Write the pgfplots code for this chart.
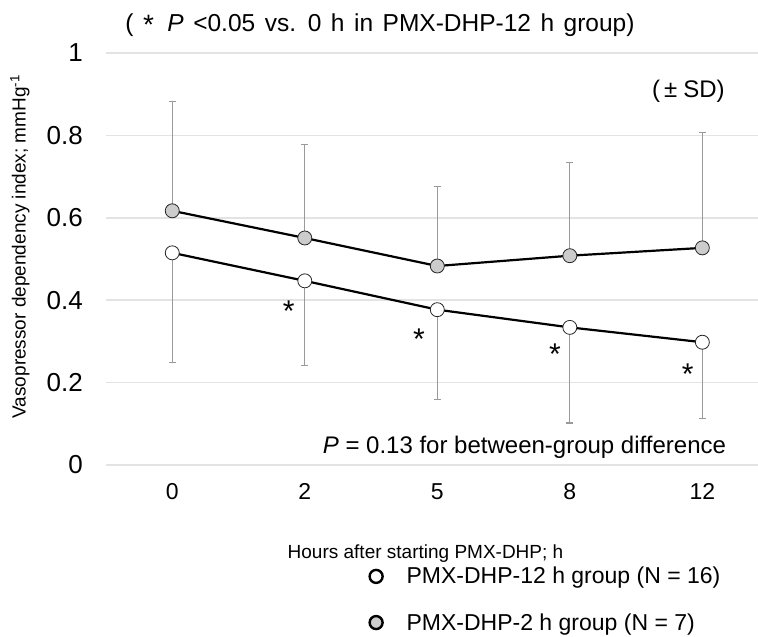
\documentclass[border=0pt]{standalone}
\usepackage{pgfplots}
\pgfplotsset{compat=1.18}
\usepackage{pgfplotstable}
\usepackage{fontspec}
\setmainfont{Liberation Sans}

\definecolor{gridgray}{HTML}{E3E3E3}
\definecolor{bargray}{HTML}{9A9A9A}
\definecolor{markgray}{HTML}{CCCCCC}

% PMX-DHP-12 h group: mean and SD (drawn downwards)
\pgfplotstableread{
x y dy
0 0.515 0.266
1 0.447 0.206
2 0.377 0.219
3 0.334 0.232
4 0.298 0.186
}\twelvegroup

% PMX-DHP-2 h group: mean and SD (drawn upwards)
\pgfplotstableread{
x y dy
0 0.617 0.265
1 0.551 0.226
2 0.483 0.193
3 0.508 0.227
4 0.527 0.280
}\twogroup

\begin{document}
\begin{tikzpicture}
\begin{axis}[
    width=652pt, height=412pt, scale only axis,
    xmin=-0.5, xmax=4.42, ymin=0, ymax=1,
    axis line style={draw=none},
    major tick length=0pt,
    xtick={0,1,2,3,4}, xticklabels={0,2,5,8,12},
    ytick={0,0.2,0.4,0.6,0.8,1}, yticklabels={0,0.2,0.4,0.6,0.8,1},
    ymajorgrids,
    major grid style={gridgray, line width=1.5pt},
    xticklabel style={font=\fontsize{23}{27}\selectfont, anchor=north, inner sep=0pt, yshift=-18pt},
    yticklabel style={font=\fontsize{26}{30}\selectfont, anchor=east, inner sep=0pt, xshift=-23pt},
    xlabel={Hours after starting PMX-DHP; h},
    ylabel={Vasopressor dependency index; mmHg\textsuperscript{-1}},
    label style={font=\fontsize{19}{22}\selectfont},
    xlabel style={at={(axis description cs:0.49,-0.216)}, anchor=center},
    ylabel style={at={(axis description cs:-0.132,0.53)}, anchor=center},
    clip=false,
    legend cell align=left,
    legend style={draw=none, fill=none, inner sep=0pt,
        at={(axis description cs:0.404,-0.243)}, anchor=north west,
        font=\fontsize{23}{27}\selectfont, row sep=24pt, column sep=22pt},
]
\addplot[black, line width=2.2pt, mark=*, mark size=7pt,
    mark options={fill=markgray, draw=black!85, line width=0.8pt}, forget plot,
    error bars/.cd, y dir=plus, y explicit,
    error bar style={bargray, line width=1.1pt},
    error mark options={rotate=90, bargray, mark size=3.5pt, line width=1.1pt}]
    table[x=x, y=y, y error=dy]{\twogroup};
\addplot[black, line width=2.2pt, mark=*, mark size=7pt,
    mark options={fill=white, draw=black!85, line width=0.8pt}, forget plot,
    error bars/.cd, y dir=minus, y explicit,
    error bar style={bargray, line width=1.1pt},
    error mark options={rotate=90, bargray, mark size=3.5pt, line width=1.1pt}]
    table[x=x, y=y, y error=dy]{\twelvegroup};

\addlegendimage{only marks, mark=*, mark size=6.5pt,
    mark options={fill=white, draw=black, line width=2.4pt}}
\addlegendentry{PMX-DHP-12 h group (N = 16)}
\addlegendimage{only marks, mark=*, mark size=6.5pt,
    mark options={fill=markgray, draw=black, line width=2.4pt}}
\addlegendentry{PMX-DHP-2 h group (N = 7)}

% significance marks
\node[anchor=base, font=\fontsize{30}{34}\selectfont] at (axis cs:0.879,0.348) {*};
\node[anchor=base, font=\fontsize{30}{34}\selectfont] at (axis cs:1.862,0.281) {*};
\node[anchor=base, font=\fontsize{30}{34}\selectfont] at (axis cs:2.887,0.245) {*};
\node[anchor=base, font=\fontsize{30}{34}\selectfont] at (axis cs:3.889,0.195) {*};

\node[anchor=base west, inner sep=0pt, font=\fontsize{24.5}{28}\selectfont]
    at (axis cs:-0.355,1.051) {\spaceskip=9.5pt ( \raisebox{-0.12em}{\fontsize{28}{30}\selectfont *}\kern4pt{} \textit{P} <0.05 vs. 0 h in PMX-DHP-12 h group)};
\node[anchor=base east, inner sep=0pt, font=\fontsize{24}{28}\selectfont]
    at (axis cs:4.17,0.891) {(\kern4pt±\kern6pt SD)};
\node[anchor=base east, inner sep=0pt, font=\fontsize{24}{28}\selectfont]
    at (axis cs:4.18,0.029) {\textit{P} = 0.13 for between-group difference};
\end{axis}
\pgfresetboundingbox
\useasboundingbox (-106pt,-172pt) rectangle (652pt,465pt);
\end{tikzpicture}
\end{document}
